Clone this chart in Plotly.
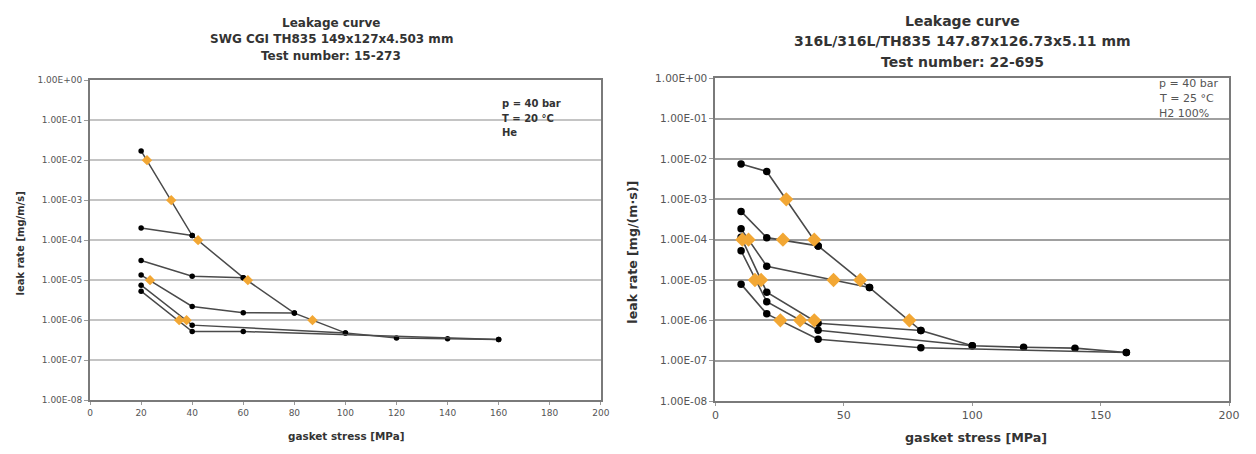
import plotly.graph_objects as go

# ---------------- data: left chart (SWG CGI, He) ----------------
L_load_x = [20, 40, 60, 80, 100, 120, 140, 160]
L_load_y = [1.7e-2, 1.3e-4, 1.15e-5, 1.5e-6, 4.8e-7, 3.6e-7, 3.4e-7, 3.3e-7]
L_un40_x = [40, 20]
L_un40_y = [1.3e-4, 2.0e-4]
L_un60_x = [60, 40, 20]
L_un60_y = [1.15e-5, 1.25e-5, 3.1e-5]
L_un80_x = [80, 60, 40, 20]
L_un80_y = [1.5e-6, 1.53e-6, 2.2e-6, 1.34e-5]
L_un100_x = [100, 40, 20]
L_un100_y = [4.8e-7, 7.5e-7, 7.5e-6]
L_un160_x = [160, 60, 40, 20]
L_un160_y = [3.3e-7, 5.2e-7, 5.2e-7, 5.3e-6]
L_cls_x = [22.3, 31.8, 42.3, 61.8, 87.1, 23.5, 34.9, 37.8]
L_cls_y = [1e-2, 1e-3, 1e-4, 1e-5, 1e-6, 1e-5, 1e-6, 1e-6]

# ---------------- data: right chart (316L, H2) ----------------
R_load_x = [10, 20, 40, 60, 80, 100, 120, 140, 160]
R_load_y = [7.5e-3, 4.9e-3, 7.0e-5, 6.5e-6, 5.6e-7, 2.35e-7, 2.15e-7, 2.05e-7, 1.6e-7]
R_un40_x = [40, 20, 10]
R_un40_y = [7.0e-5, 1.12e-4, 5.0e-4]
R_un60_x = [60, 20, 10]
R_un60_y = [6.5e-6, 2.2e-5, 1.85e-4]
R_un80_x = [80, 40, 20, 10]
R_un80_y = [5.6e-7, 8.5e-7, 5.0e-6, 1.15e-4]
R_un100_x = [100, 40, 20, 10]
R_un100_y = [2.35e-7, 5.7e-7, 2.9e-6, 5.3e-5]
R_un160_x = [160, 80, 40, 20, 10]
R_un160_y = [1.6e-7, 2.1e-7, 3.4e-7, 1.45e-6, 7.9e-6]
R_cls_x = [27.6, 38.5, 26.3, 10.5, 12.9, 46.0, 56.4, 15.4, 17.8, 75.5, 25.3, 33.0, 38.5]
R_cls_y = [1e-3, 1e-4, 1e-4, 1e-4, 1e-4, 1e-5, 1e-5, 1e-5, 1e-5, 1e-6, 1e-6, 1e-6, 1e-6]

Y_TICKVALS = [1e0, 1e-1, 1e-2, 1e-3, 1e-4, 1e-5, 1e-6, 1e-7, 1e-8]
Y_TICKTEXT = ["1.00E+00", "1.00E-01", "1.00E-02", "1.00E-03", "1.00E-04",
              "1.00E-05", "1.00E-06", "1.00E-07", "1.00E-08"]
L_XTICKS = [0, 20, 40, 60, 80, 100, 120, 140, 160, 180, 200]
R_XTICKS = [0, 50, 100, 150, 200]

# page is 1256x454; the browser's default 8px body margin surrounds the figure
M = 8
W, H = 1256 - 2 * M, 454 - 2 * M
def px(x):
    return (x - M) / W
def py(y):
    return 1 - (y - M) / H

ORANGE = "#F2A734"
LINE = "#4a4a4a"
FONT = "DejaVu Sans"

fig = go.Figure()

left_series = [(L_load_x, L_load_y), (L_un40_x, L_un40_y), (L_un60_x, L_un60_y),
               (L_un80_x, L_un80_y), (L_un100_x, L_un100_y), (L_un160_x, L_un160_y)]
for xs, ys in left_series:
    fig.add_trace(go.Scatter(x=xs, y=ys, mode="lines+markers", xaxis="x", yaxis="y",
                             line=dict(color=LINE, width=1.5),
                             marker=dict(color="black", size=5.5, symbol="circle"),
                             showlegend=False, hoverinfo="skip"))
fig.add_trace(go.Scatter(x=L_cls_x, y=L_cls_y, mode="markers", xaxis="x", yaxis="y",
                         marker=dict(color=ORANGE, size=8, symbol="diamond"),
                         showlegend=False, hoverinfo="skip"))

right_series = [(R_load_x, R_load_y), (R_un40_x, R_un40_y), (R_un60_x, R_un60_y),
                (R_un80_x, R_un80_y), (R_un100_x, R_un100_y), (R_un160_x, R_un160_y)]
for xs, ys in right_series:
    fig.add_trace(go.Scatter(x=xs, y=ys, mode="lines+markers", xaxis="x2", yaxis="y2",
                             line=dict(color=LINE, width=1.6),
                             marker=dict(color="black", size=7.5, symbol="circle"),
                             showlegend=False, hoverinfo="skip"))
fig.add_trace(go.Scatter(x=R_cls_x, y=R_cls_y, mode="markers", xaxis="x2", yaxis="y2",
                         marker=dict(color=ORANGE, size=11, symbol="diamond"),
                         showlegend=False, hoverinfo="skip"))

def xax(domain, ticks, fs):
    return dict(domain=domain, range=[0, 200], tickvals=ticks, ticktext=[str(t) for t in ticks],
                showgrid=False, zeroline=False, showline=True, linecolor="#7a7a7a", linewidth=2,
                mirror=True, ticks="outside", ticklen=3, tickcolor="#9a9a9a",
                tickfont=dict(family=FONT, size=fs, color="#555555"))

def yax(domain, anchor, fs, gridcolor):
    return dict(domain=domain, anchor=anchor, type="log", range=[-8, 0],
                tickvals=Y_TICKVALS, ticktext=Y_TICKTEXT,
                showgrid=True, gridcolor=gridcolor, gridwidth=2, zeroline=False,
                showline=True, linecolor="#7a7a7a", linewidth=2, mirror=True,
                ticks="outside", ticklen=4, tickcolor="#9a9a9a",
                tickfont=dict(family=FONT, size=fs, color="#555555"))

fig.update_layout(
    width=W, height=H, autosize=False,
    margin=dict(l=0, r=0, t=0, b=0),
    paper_bgcolor="white", plot_bgcolor="white",
    xaxis=dict(xax([px(87), px(604)], L_XTICKS, 9), anchor="y"),
    yaxis=yax([py(405), py(76)], "x", 9, "#c4c4c4"),
    xaxis2=dict(xax([px(720), px(1240)], R_XTICKS, 11), anchor="y2"),
    yaxis2=yax([py(406), py(74)], "x2", 10.5, "#a0a0a0"),
)

ann = []
def text(x, y, s, size, bold=False, color="#333333", xanchor="center", angle=0):
    ann.append(dict(x=px(x), y=py(y), xref="paper", yref="paper", text=("<b>%s</b>" % s) if bold else s,
                    showarrow=False, xanchor=xanchor, yanchor="middle", textangle=angle,
                    font=dict(family=FONT, size=size, color=color)))

# left titles
text(331, 17, "Leakage curve", 12, True)
text(331, 34, "SWG CGI TH835 149x127x4.503 mm", 12, True)
text(331, 51, "Test number: 15-273", 12, True)
# right titles
text(970, 15, "Leakage curve", 14, True)
text(970, 36, "316L/316L/TH835 147.87x126.73x5.11 mm", 14, True)
text(970, 57, "Test number: 22-695", 14, True)
# axis titles
text(346, 442, "gasket stress [MPa]", 10.4, True)
text(17, 244, "leak rate [mg/m/s]", 10, True, angle=-90)
text(984, 443, "gasket stress [MPa]", 12.7, True)
text(636, 253, "leak rate [mg/(m·s)]", 12.6, True, angle=-90)
# conditions
text(502, 100, "p = 40 bar", 10, True, xanchor="left")
text(502, 115, "T = 20 °C", 10, True, xanchor="left")
text(502, 130, "He", 10, True, xanchor="left")
text(1167, 79, "p = 40 bar", 11, False, "#555555", xanchor="left")
text(1167, 95, "T = 25 °C", 11, False, "#555555", xanchor="left")
text(1167, 110, "H2 100%", 11, False, "#555555", xanchor="left")

fig.update_layout(annotations=ann)
fig.write_html("out.html", config={"displayModeBar": False})
